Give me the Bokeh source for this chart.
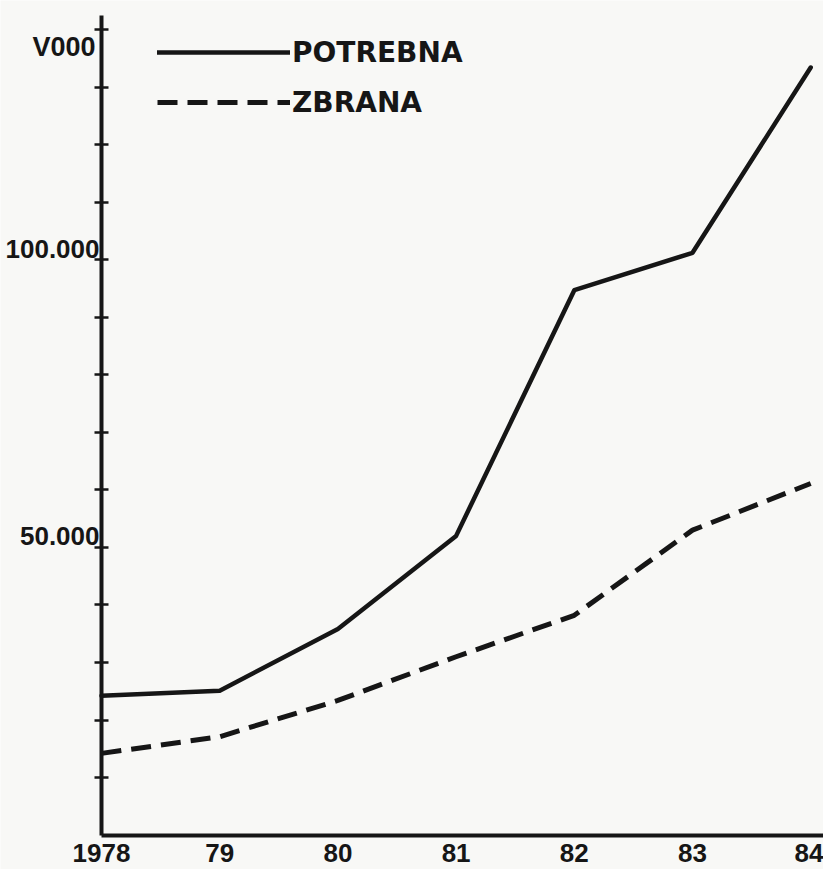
from bokeh.plotting import figure
from bokeh.models import Range1d, Legend, LegendItem, FixedTicker
from bokeh.core.properties import value
from bokeh.embed import file_html
from bokeh.resources import INLINE

# ---- data ----
years = [1978, 1979, 1980, 1981, 1982, 1983, 1984]
year_labels = ["1978", "79", "80", "81", "82", "83", "84"]
potrebna = [24200, 25100, 35800, 52000, 94700, 101200, 133400]
zbrana = [14200, 17100, 23400, 31000, 38200, 53000, 61100]
y_ticks = [10000, 20000, 30000, 40000, 50000, 60000, 70000,
           80000, 90000, 100000, 110000, 120000, 130000, 140000]
y_label_values = [50000, 100000]
y_label_texts = ["50.000", "100.000"]
unit_label = ["V000"]
unit_label_value = [135000]
y_axis_top = 142500
series_names = ["POTREBNA", "ZBRANA"]

# ---- style / geometry ----
INK = "#161616"
BG = "#f8f8f6"
NUM_FONT = "Liberation Sans"
LEG_FONT = "DejaVu Sans"
W, H = 823, 869
X0_PX, PX_PER_YEAR = 101, 118.2      # y axis position, px per year
Y0_PX, PX_PER_UNIT = 834.6, 0.005754  # x axis position, px per unit

x_start = years[0] - X0_PX / PX_PER_YEAR
x_end = years[0] + (W - X0_PX) / PX_PER_YEAR
y_end = Y0_PX / PX_PER_UNIT
y_start = -(H - Y0_PX) / PX_PER_UNIT

p = figure(width=W, height=H,
           x_range=Range1d(x_start, x_end), y_range=Range1d(y_start, y_end),
           min_border_left=0, min_border_right=0, min_border_top=0,
           min_border_bottom=0,
           output_backend="svg", toolbar_location=None)
p.background_fill_color = BG
p.border_fill_color = BG
p.outline_line_color = None
p.grid.visible = False

# y axis: crossing ticks every 10.000, drawn at the first year
p.yaxis.fixed_location = years[0]
p.yaxis.ticker = FixedTicker(ticks=y_ticks)
p.yaxis.bounds = (0, y_axis_top)
p.yaxis.major_label_text_color = None
p.yaxis.minor_tick_line_color = None
p.yaxis.major_tick_in = 7
p.yaxis.major_tick_out = 7
p.yaxis.major_tick_line_width = 2.5
p.yaxis.major_tick_line_color = INK
p.yaxis.axis_line_width = 4
p.yaxis.axis_line_color = INK

# x axis drawn at zero, year labels from the axis
p.xaxis.fixed_location = 0
p.xaxis.ticker = FixedTicker(ticks=years)
p.xaxis.bounds = (years[0], x_end)
p.xaxis.major_label_overrides = {y: t for y, t in zip(years, year_labels)}
p.xaxis.major_label_text_font = NUM_FONT
p.xaxis.major_label_text_font_style = "bold"
p.xaxis.major_label_text_font_size = "26px"
p.xaxis.major_label_text_color = INK
p.xaxis.major_label_standoff = 9
p.xaxis.major_tick_line_color = None
p.xaxis.major_tick_in = 0
p.xaxis.major_tick_out = 0
p.xaxis.minor_tick_line_color = None
p.xaxis.axis_line_width = 4
p.xaxis.axis_line_color = INK

r1 = p.line(years, potrebna, line_color=INK, line_width=4.5, line_join="round",
            line_cap="round")
r2 = p.line(years, zbrana, line_color=INK, line_width=5, line_dash="20 10",
            line_join="round")

# y tick labels sit just above their tick
p.text(x=[years[0]] * len(y_label_values), y=y_label_values, text=y_label_texts,
       x_offset=-2, y_offset=-11, text_align="right", text_baseline="middle",
       text_font=value(NUM_FONT), text_font_style="bold",
       text_font_size="26px", text_color=INK)
p.text(x=[years[0]], y=unit_label_value, text=unit_label,
       x_offset=-6, y_offset=-11, text_align="right", text_baseline="middle",
       text_font=value(NUM_FONT), text_font_style="bold",
       text_font_size="27px", text_color=INK)

legend = Legend(items=[LegendItem(label=series_names[0], renderers=[r1]),
                       LegendItem(label=series_names[1], renderers=[r2])],
                location=(157, 750), orientation="vertical",
                glyph_width=133, glyph_height=34, label_height=34,
                spacing=16, padding=0, margin=0, label_standoff=2,
                label_text_font=LEG_FONT, label_text_font_style="bold",
                label_text_font_size="28px", label_text_color=INK,
                background_fill_alpha=0, border_line_alpha=0)
p.add_layout(legend)

open("out.html", "w").write(file_html(p, INLINE))
